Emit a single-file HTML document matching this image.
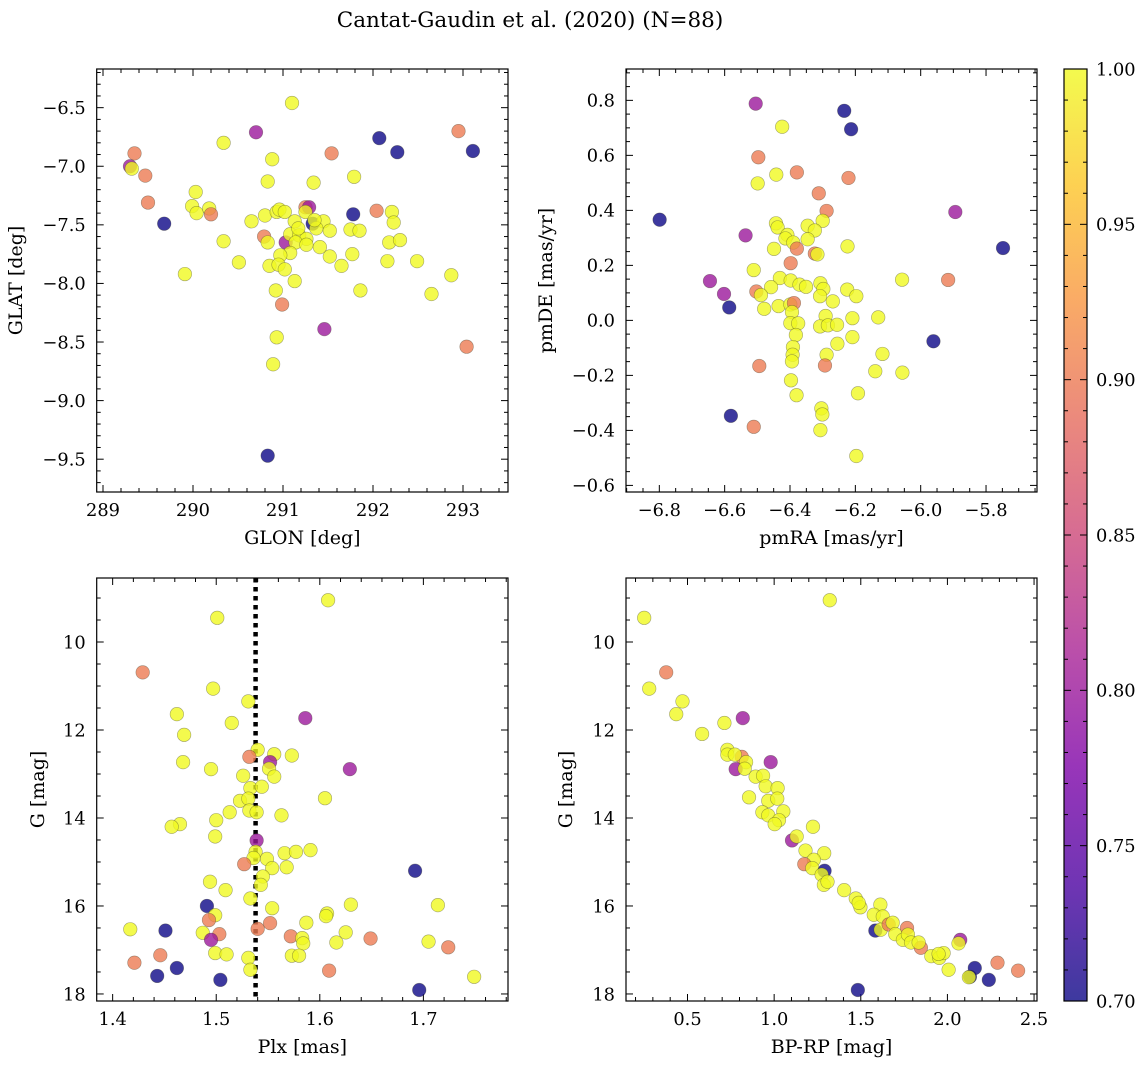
<!DOCTYPE html>
<html><head><meta charset="utf-8"><style>
html,body{margin:0;padding:0;background:#fff;}
svg{display:block;font-family:"DejaVu Serif","Liberation Serif",serif;}
</style></head><body>
<svg id="fig" width="1148" height="1068" viewBox="0 0 1148 1068" xmlns="http://www.w3.org/2000/svg">
<defs><linearGradient id="plasma" x1="0" y1="1" x2="0" y2="0">
<stop offset="0" stop-color="#0d0887"/><stop offset="0.125" stop-color="#4c02a1"/><stop offset="0.25" stop-color="#7e03a8"/><stop offset="0.375" stop-color="#a92395"/><stop offset="0.5" stop-color="#cc4778"/><stop offset="0.625" stop-color="#e66c5c"/><stop offset="0.75" stop-color="#f89540"/><stop offset="0.875" stop-color="#fdc527"/><stop offset="1" stop-color="#f0f921"/>
</linearGradient></defs>
<text x="530" y="27" font-size="21.5" text-anchor="middle">Cantat-Gaudin et al. (2020) (N=88)</text>
</svg>
<script>
// Panel 1: GLON vs GLAT
const p1GLON=[291.10,290.70,290.34,292.07,292.27,292.95,293.11,289.35,289.30,289.32,289.47,290.88,291.54,290.83,291.34,291.79,289.50,290.03,289.68,289.99,290.04,290.18,290.20,290.34,290.51,289.91,290.65,290.80,290.93,290.96,291.02,291.25,291.29,291.25,290.79,291.03,290.83,291.13,291.33,291.45,291.37,291.52,291.08,291.18,291.26,291.14,291.26,291.41,291.08,290.97,291.52,290.85,290.95,291.02,291.13,290.92,291.65,291.77,291.78,291.75,291.85,292.04,292.21,292.23,292.18,292.30,292.16,292.49,292.87,292.65,291.86,290.99,291.46,290.93,290.89,290.83,293.04,291.35,291.17];
const p1GLAT=[-6.46,-6.71,-6.80,-6.76,-6.88,-6.70,-6.87,-6.89,-7.00,-7.02,-7.08,-6.94,-6.89,-7.13,-7.14,-7.09,-7.31,-7.22,-7.49,-7.34,-7.40,-7.36,-7.41,-7.64,-7.82,-7.92,-7.47,-7.42,-7.39,-7.37,-7.39,-7.35,-7.35,-7.39,-7.60,-7.65,-7.65,-7.47,-7.49,-7.47,-7.53,-7.55,-7.58,-7.59,-7.62,-7.65,-7.67,-7.69,-7.74,-7.76,-7.77,-7.85,-7.84,-7.88,-7.98,-8.06,-7.85,-7.75,-7.41,-7.54,-7.55,-7.38,-7.39,-7.48,-7.65,-7.63,-7.81,-7.81,-7.93,-8.09,-8.06,-8.18,-8.39,-8.46,-8.69,-9.47,-8.54,-7.46,-7.53];
const p1Prob=[1,0.8,1,0.7,0.7,0.9,0.7,0.9,0.8,1,0.9,1,0.9,1,1,1,0.9,1,0.7,1,1,1,0.9,1,1,1,1,1,1,1,1,0.9,0.8,1,0.9,0.8,1,1,0.7,1,1,1,1,1,1,1,1,1,1,1,1,1,1,1,1,1,1,1,0.7,1,1,0.9,1,1,1,1,1,1,1,1,1,0.9,0.8,1,1,0.7,0.9,1,1];
// Panel 2: pmRA vs pmDE
const p2PMRA=[-6.505,-6.234,-6.213,-6.424,-6.497,-6.379,-6.442,-6.499,-6.221,-6.312,-6.288,-6.300,-6.799,-5.894,-5.748,-6.536,-6.443,-6.438,-6.346,-6.324,-6.408,-6.414,-6.390,-6.346,-6.379,-6.449,-6.324,-6.316,-6.224,-6.398,-6.511,-6.645,-5.916,-6.057,-6.431,-6.398,-6.458,-6.371,-6.351,-6.307,-6.298,-6.225,-6.197,-6.308,-6.269,-6.503,-6.489,-6.602,-6.586,-6.479,-6.435,-6.399,-6.388,-6.394,-6.291,-6.209,-6.130,-6.399,-6.375,-6.308,-6.284,-6.256,-6.382,-6.209,-6.255,-5.961,-6.391,-6.392,-6.288,-6.117,-6.394,-6.494,-6.293,-6.139,-6.056,-6.397,-6.192,-6.380,-6.304,-6.301,-6.581,-6.511,-6.307,-6.197];
const p2PMDE=[0.788,0.762,0.695,0.704,0.593,0.538,0.530,0.498,0.518,0.462,0.398,0.362,0.366,0.394,0.263,0.309,0.353,0.338,0.344,0.327,0.311,0.298,0.283,0.295,0.261,0.260,0.243,0.240,0.269,0.208,0.183,0.143,0.147,0.148,0.154,0.145,0.121,0.130,0.122,0.135,0.114,0.112,0.088,0.088,0.069,0.105,0.092,0.096,0.047,0.042,0.052,0.058,0.063,0.030,0.016,0.008,0.011,-0.010,-0.011,-0.022,-0.018,-0.016,-0.053,-0.061,-0.085,-0.076,-0.097,-0.125,-0.125,-0.122,-0.149,-0.166,-0.164,-0.185,-0.190,-0.218,-0.265,-0.272,-0.320,-0.342,-0.347,-0.387,-0.399,-0.493];
const p2Prob=[0.8,0.7,0.7,1,0.9,0.9,1,1,0.9,0.9,0.9,1,0.7,0.8,0.7,0.8,1,1,1,1,1,1,1,1,0.9,1,0.9,1,1,0.9,1,0.8,0.9,1,1,1,1,1,1,1,1,1,1,1,1,0.9,1,0.8,0.7,1,1,1,0.9,1,1,1,1,1,1,1,1,1,1,1,1,0.7,1,1,1,1,1,0.9,0.9,1,1,1,1,1,1,1,0.7,0.9,1,1];
// Panel 3: Plx vs G
const p3PLX=[1.608,1.501,1.429,1.497,1.531,1.462,1.515,1.586,1.469,1.540,1.532,1.556,1.573,1.552,1.468,1.495,1.551,1.629,1.526,1.556,1.533,1.544,1.523,1.531,1.532,1.539,1.513,1.563,1.605,1.500,1.465,1.457,1.499,1.539,1.538,1.536,1.549,1.566,1.577,1.591,1.527,1.554,1.568,1.692,1.545,1.543,1.494,1.509,1.533,1.554,1.491,1.499,1.493,1.552,1.587,1.607,1.606,1.630,1.714,1.417,1.451,1.540,1.487,1.503,1.495,1.572,1.583,1.584,1.625,1.616,1.649,1.705,1.724,1.499,1.510,1.531,1.573,1.580,1.446,1.421,1.462,1.443,1.533,1.504,1.609,1.749,1.696];
const p3G=[9.05,9.45,10.69,11.06,11.35,11.64,11.84,11.73,12.11,12.45,12.61,12.55,12.58,12.73,12.73,12.89,12.88,12.89,13.04,13.06,13.32,13.29,13.61,13.56,13.83,13.87,13.87,13.94,13.55,14.05,14.14,14.20,14.42,14.51,14.77,14.91,14.93,14.80,14.77,14.73,15.05,15.14,15.12,15.20,15.33,15.52,15.45,15.64,15.83,16.05,16.00,16.21,16.32,16.39,16.38,16.17,16.23,15.97,15.98,16.53,16.56,16.52,16.61,16.64,16.77,16.69,16.73,16.85,16.60,16.83,16.74,16.81,16.94,17.07,17.10,17.18,17.13,17.13,17.12,17.29,17.41,17.59,17.45,17.68,17.47,17.61,17.91];
const p3Prob=[1,1,0.9,1,1,1,1,0.8,1,1,0.9,1,1,0.8,1,1,1,0.8,1,1,1,1,1,1,1,1,1,1,1,1,1,1,1,0.8,1,1,1,1,1,1,0.9,1,1,0.7,1,1,1,1,1,1,0.7,1,0.9,0.9,1,1,1,1,1,1,0.7,0.9,1,0.9,0.8,0.9,1,1,1,1,0.9,1,0.9,1,1,1,1,1,0.9,0.9,0.7,0.7,1,0.7,0.9,1,0.7];
const plxLine=[1.538];
// Panel 4: BP-RP vs G
const p4BPRP=[1.321,0.250,0.377,0.279,0.471,0.435,0.819,0.713,0.584,0.730,0.730,0.813,0.773,0.980,0.838,0.778,0.830,0.893,0.936,0.951,1.020,0.855,0.966,1.018,0.932,0.966,1.053,1.028,1.003,1.224,1.103,1.130,1.181,1.289,1.229,1.174,1.220,1.291,1.274,1.287,1.308,1.404,1.471,1.498,1.488,1.613,1.575,1.627,1.584,1.615,1.661,1.684,1.767,1.699,1.743,1.772,1.790,1.847,1.834,1.907,1.953,1.978,1.949,2.007,2.074,2.064,2.158,2.130,2.124,2.239,2.289,2.408,1.483];
const p4G=[9.05,9.45,10.69,11.06,11.35,11.64,11.73,11.84,12.09,12.45,12.56,12.61,12.56,12.73,12.73,12.89,12.88,13.06,13.04,13.28,13.32,13.53,13.61,13.56,13.87,13.94,13.85,14.05,14.14,14.20,14.51,14.42,14.74,14.80,14.95,15.05,15.14,15.20,15.29,15.52,15.45,15.64,15.83,16.03,15.93,15.97,16.20,16.24,16.56,16.54,16.42,16.38,16.50,16.64,16.77,16.65,16.83,16.95,16.83,17.14,17.18,17.07,17.09,17.45,16.77,16.85,17.41,17.61,17.62,17.68,17.29,17.47,17.91];
const p4Prob=[1,1,0.9,1,1,1,0.8,1,1,1,1,0.9,1,0.8,1,0.8,1,1,1,1,1,1,1,1,1,1,1,1,1,1,0.8,1,1,1,1,0.9,1,0.7,1,1,1,1,1,1,1,1,1,1,0.7,1,0.9,1,0.9,1,1,1,1,0.9,1,1,1,1,1,1,0.8,1,0.7,0.7,1,0.7,0.9,0.9,0.7];
// Colorbar
const cbTicks=[0.70,0.75,0.80,0.85,0.90,0.95,1.00];
const cbMin=0.70, cbMax=1.00;

const NS="http://www.w3.org/2000/svg";
const svg=document.getElementById('fig');
const TFS=17.8, LFS=19;
function mk(tag,attrs,parent){const e=document.createElementNS(NS,tag);for(const k in attrs)e.setAttribute(k,attrs[k]);(parent||svg).appendChild(e);return e;}
const stops=[[0,[13,8,135]],[0.125,[76,2,161]],[0.25,[126,3,168]],[0.375,[169,35,149]],[0.5,[204,71,120]],[0.625,[230,108,92]],[0.75,[248,149,64]],[0.875,[253,197,39]],[1,[240,249,33]]];
function plasma(t){t=Math.max(0,Math.min(1,t));for(let i=1;i<stops.length;i++){if(t<=stops[i][0]){const a=stops[i-1],b=stops[i];const f=(t-a[0])/(b[0]-a[0]);return 'rgb('+[0,1,2].map(j=>Math.round(a[1][j]+f*(b[1][j]-a[1][j]))).join(',')+')';}}return 'rgb(240,249,33)';}
function linScale(d0,d1,r0,r1){return v=>r0+(v-d0)/(d1-d0)*(r1-r0);}
function fmt(v,dec){let s=v.toFixed(dec);if(s.startsWith('-'))s='\u2212'+s.slice(1);return s;}

function panel(cfg){
  const g=mk('g',{});
  
  
  const {L,T,R,B}=cfg;
  const sx=linScale(cfg.xd[0],cfg.xd[1],L,R);
  const sy=linScale(cfg.yd[0],cfg.yd[1],B,T);
  mk('rect',{x:L,y:T,width:R-L,height:B-T,fill:'#fff'},g);
  const xmin=Math.min(...cfg.xd),xmax=Math.max(...cfg.xd),ymin=Math.min(...cfg.yd),ymax=Math.max(...cfg.yd);
  const tg=mk('g',{stroke:'#000','stroke-width':1},g);
  for(let v=Math.ceil(xmin/cfg.xminor-1e-6)*cfg.xminor;v<=xmax+1e-9;v+=cfg.xminor){const x=sx(v);const maj=Math.abs(v/cfg.xmajor-Math.round(v/cfg.xmajor))<1e-4;const l=maj?7:4;
    mk('line',{x1:x,x2:x,y1:B,y2:B-l},tg);mk('line',{x1:x,x2:x,y1:T,y2:T+l},tg);}
  for(let v=Math.ceil(ymin/cfg.yminor-1e-6)*cfg.yminor;v<=ymax+1e-9;v+=cfg.yminor){const y=sy(v);const maj=Math.abs(v/cfg.ymajor-Math.round(v/cfg.ymajor))<1e-4;const l=maj?7:4;
    mk('line',{y1:y,y2:y,x1:L,x2:L+l},tg);mk('line',{y1:y,y2:y,x1:R,x2:R-l},tg);}
  cfg.xticks.forEach(v=>{const t=mk('text',{x:sx(v),y:B+24,'font-size':TFS,'text-anchor':'middle'},g);t.textContent=fmt(v,cfg.xdec);
    
    });
  cfg.yticks.forEach(v=>{const t=mk('text',{x:L-11,y:sy(v)+6.3,'font-size':TFS,'text-anchor':'end'},g);t.textContent=fmt(v,cfg.ydec);
    
    });
  const xl=mk('text',{x:(L+R)/2,y:B+52,'font-size':LFS,'text-anchor':'middle'},g);xl.textContent=cfg.xlabel;
  
  
  const yx=cfg.ylx,yy=(T+B)/2;
  const yl=mk('text',{x:yx,y:yy,'font-size':LFS,'text-anchor':'middle',transform:'rotate(-90 '+yx+' '+yy+')'},g);yl.textContent=cfg.ylabel;
  
  
  if(cfg.vline){cfg.vline.forEach(v=>{const l=mk('line',{x1:sx(v),x2:sx(v),y1:T,y2:B,stroke:'#000','stroke-width':4.5,'stroke-dasharray':'4.5 4.5'},g);
    
    });}
  const pg=mk('g',{},g);
  for(let i=0;i<cfg.xs.length;i++){
    const c=mk('circle',{cx:sx(cfg.xs[i]),cy:sy(cfg.ys[i]),r:6.8,fill:plasma((cfg.ps[i]-cbMin)/(cbMax-cbMin)),'fill-opacity':0.8,stroke:'rgba(60,60,40,0.45)','stroke-width':0.6},pg);
    
    
  }
  mk('rect',{x:L,y:T,width:R-L,height:B-T,fill:'none',stroke:'#000','stroke-width':1.2},g);
}
panel({name:'panel-glon-glat',L:96.7,T:69,R:508,B:492,xd:[288.93,293.5],yd:[-9.78,-6.17],xmajor:1,xminor:0.2,ymajor:0.5,yminor:0.1,xticks:[289,290,291,292,293],yticks:[-9.5,-9,-8.5,-8,-7.5,-7,-6.5],xdec:0,ydec:1,xlabel:'GLON [deg]',ylabel:'GLAT [deg]',ylx:22,xs:p1GLON,ys:p1GLAT,ps:p1Prob});
panel({name:'panel-pmra-pmde',L:626,T:69,R:1037,B:492,xd:[-6.902,-5.644],yd:[-0.624,0.914],xmajor:0.2,xminor:0.05,ymajor:0.2,yminor:0.05,xticks:[-6.8,-6.6,-6.4,-6.2,-6.0,-5.8],yticks:[-0.6,-0.4,-0.2,0,0.2,0.4,0.6,0.8],xdec:1,ydec:1,xlabel:'pmRA [mas/yr]',ylabel:'pmDE [mas/yr]',ylx:552,xs:p2PMRA,ys:p2PMDE,ps:p2Prob});
panel({name:'panel-plx-g',L:96.7,T:578,R:508,B:1001,xd:[1.3846,1.7817],yd:[18.16,8.545],xmajor:0.1,xminor:0.02,ymajor:2,yminor:0.5,xticks:[1.4,1.5,1.6,1.7],yticks:[10,12,14,16,18],xdec:1,ydec:0,xlabel:'Plx [mas]',ylabel:'G [mag]',ylx:44,xs:p3PLX,ys:p3G,ps:p3Prob,vline:plxLine});
panel({name:'panel-bprp-g',L:626,T:578,R:1037,B:1001,xd:[0.145,2.517],yd:[18.16,8.545],xmajor:0.5,xminor:0.1,ymajor:2,yminor:0.5,xticks:[0.5,1.0,1.5,2.0,2.5],yticks:[10,12,14,16,18],xdec:1,ydec:0,xlabel:'BP-RP [mag]',ylabel:'G [mag]',ylx:572,xs:p4BPRP,ys:p4G,ps:p4Prob});

// colorbar
const cb=mk('g',{});


const cL=1064,cR=1087,cT=69,cB=1001;
const cs=linScale(cbMin,cbMax,cB,cT);
mk('rect',{x:cL,y:cT,width:cR-cL,height:cB-cT,fill:'url(#plasma)','fill-opacity':0.8},cb);
for(let v=cbMin;v<=cbMax+1e-9;v+=0.01){const y=cs(v);const maj=Math.abs(v/0.05-Math.round(v/0.05))<1e-4;mk('line',{x1:cR,x2:cR-(maj?7:4),y1:y,y2:y,stroke:'#000','stroke-width':1},cb);mk('line',{x1:cL,x2:cL+(maj?7:4),y1:y,y2:y,stroke:'#000','stroke-width':1},cb);}
cbTicks.forEach(v=>{const t=mk('text',{x:cR+9,y:cs(v)+6.3,'font-size':TFS},cb);t.textContent=v.toFixed(2);
  
  });
mk('rect',{x:cL,y:cT,width:cR-cL,height:cB-cT,fill:'none',stroke:'#000','stroke-width':1.2},cb);
</script>
</body></html>
